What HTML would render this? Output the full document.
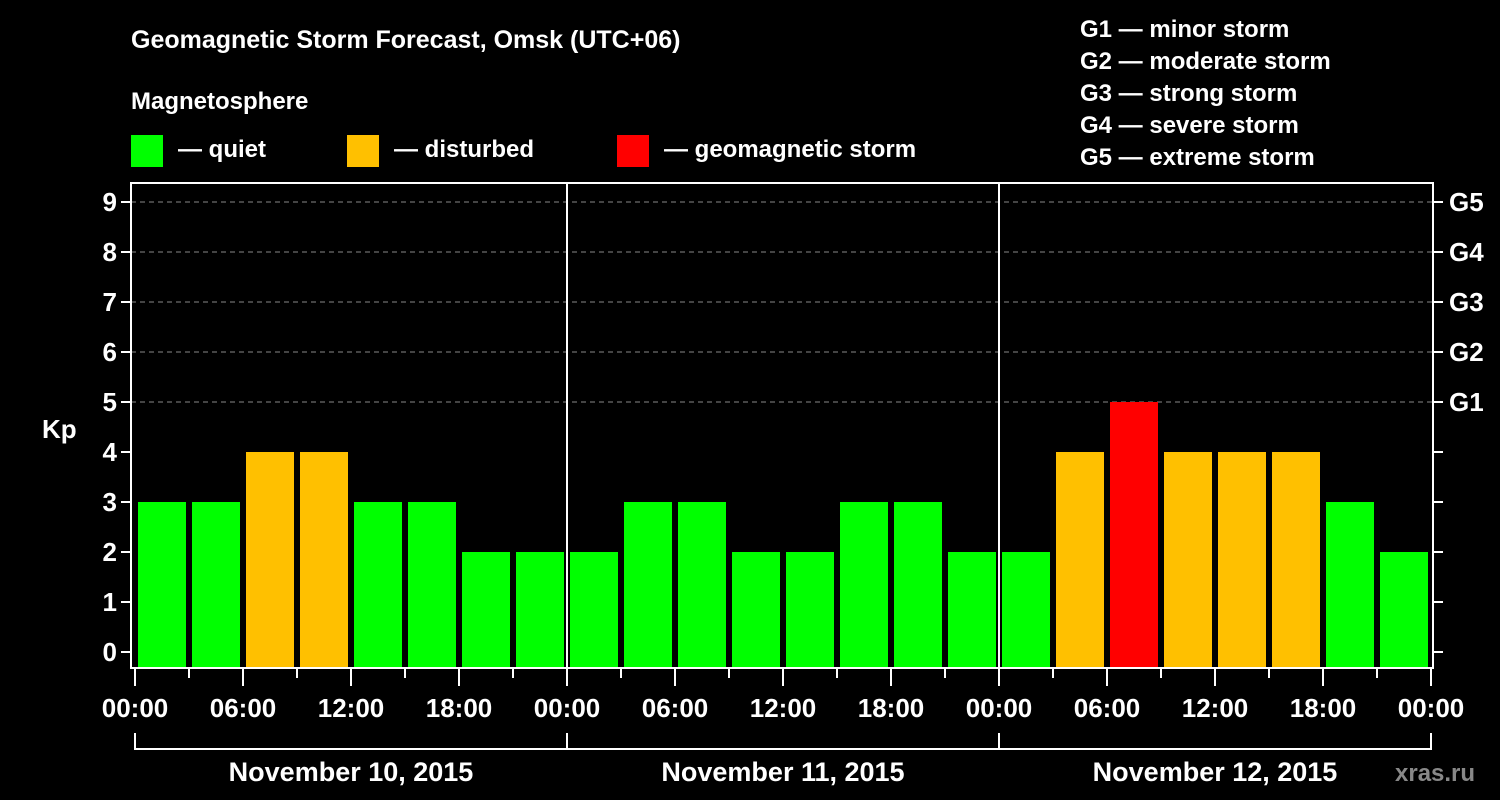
<!DOCTYPE html>
<html><head><meta charset="utf-8"><style>
html,body{margin:0;padding:0;background:#000;}
svg{display:block;font-family:"Liberation Sans",Arial,sans-serif;font-weight:bold;}
</style></head><body>
<svg id="chart" width="1500" height="800" viewBox="0 0 1500 800">
<rect width="1500" height="800" fill="#000"/>
<text x="131" y="48" fill="#fff" font-size="25">Geomagnetic Storm Forecast, Omsk (UTC+06)</text>
<text x="131" y="109" fill="#fff" font-size="24">Magnetosphere</text>
<g><rect x="131" y="135" width="32" height="32" fill="#00ff00"/><text x="178" y="157" fill="#fff" font-size="24">— quiet</text></g>
<g><rect x="347" y="135" width="32" height="32" fill="#ffc000"/><text x="394" y="157" fill="#fff" font-size="24">— disturbed</text></g>
<g><rect x="617" y="135" width="32" height="32" fill="#ff0000"/><text x="664" y="157" fill="#fff" font-size="24">— geomagnetic storm</text></g>
<g fill="#fff" font-size="24">
<text x="1080" y="37">G1 — minor storm</text>
<text x="1080" y="69">G2 — moderate storm</text>
<text x="1080" y="101">G3 — strong storm</text>
<text x="1080" y="133">G4 — severe storm</text>
<text x="1080" y="165">G5 — extreme storm</text>
</g>
<text x="42" y="438" fill="#fff" font-size="26">Kp</text>
<text x="1395" y="781" fill="#888" font-size="24">xras.ru</text>
<g id="grid"></g><g id="bars"></g><g id="axes"></g>
</svg>
<script>
const kpValues=[3,3,4,4,3,3,2,2, 2,3,3,2,2,3,3,2, 2,4,5,4,4,4,3,2];
const dayLabels=["November 10, 2015","November 11, 2015","November 12, 2015"];
const hourLabels=["00:00","06:00","12:00","18:00"];
const yTicks=[0,1,2,3,4,5,6,7,8,9];
const gLabels=["G1","G2","G3","G4","G5"];
const NS="http://www.w3.org/2000/svg";
const X0=135,DAYW=432,Y0=652,UNIT=50,TOP=183,BOT=668,LEFT=131,RIGHT=1433;
const xs=h=>X0+h/24*DAYW; const ys=v=>Y0-v*UNIT;
function mk(t,a,p){const e=document.createElementNS(NS,t);for(const k in a)e.setAttribute(k,a[k]);p.appendChild(e);return e;}
const grid=document.getElementById('grid'),bars=document.getElementById('bars'),axes=document.getElementById('axes');
yTicks.forEach(v=>{
 if(v>=5){const l=mk('line',{x1:LEFT,x2:RIGHT,y1:ys(v),y2:ys(v),stroke:'#888','stroke-width':1,'stroke-dasharray':'5,4'},grid);
 
 }
 const t=mk('line',{x1:LEFT-10,x2:LEFT,y1:ys(v),y2:ys(v),stroke:'#fff','stroke-width':2},axes);
 
 
 const tr=mk('line',{x1:RIGHT,x2:RIGHT+10,y1:ys(v),y2:ys(v),stroke:'#fff','stroke-width':2},axes);
 
 
 const tx=mk('text',{x:LEFT-14,y:ys(v)+9,fill:'#fff','font-size':26,'text-anchor':'end'},axes);tx.textContent=v;
 
 
});
gLabels.forEach((g,i)=>{
 const tx=mk('text',{x:1449,y:ys(5+i)+9,fill:'#fff','font-size':26},axes);tx.textContent=g;
 
 
});
kpValues.forEach((v,i)=>{
 const c=v>=5?'#ff0000':(v>=4?'#ffc000':'#00ff00');
 const r=mk('rect',{x:xs(i*3)+3,y:ys(v),width:48,height:BOT-ys(v),fill:c},bars);
 
 
});
const frame=mk('rect',{x:LEFT,y:TOP,width:RIGHT-LEFT,height:BOT-TOP,fill:'none',stroke:'#fff','stroke-width':2},axes);


for(let d=1;d<dayLabels.length;d++){
 const l=mk('line',{x1:xs(d*24),x2:xs(d*24),y1:TOP,y2:BOT,stroke:'#fff','stroke-width':2},axes);
 
 
}
for(let h=0;h<=72;h+=3){
 const major=h%6===0;
 const l=mk('line',{x1:xs(h),x2:xs(h),y1:BOT,y2:major?686:678,stroke:'#fff','stroke-width':2},axes);
 
 
 if(major){const tx=mk('text',{x:xs(h),y:717,fill:'#fff','font-size':26,'text-anchor':'middle'},axes);
 tx.textContent=hourLabels[(h%24)/6];
 
 }
}
const br=mk('polyline',{points:`${xs(0)},733 ${xs(0)},749 ${xs(72)},749 ${xs(72)},733`,fill:'none',stroke:'#fff','stroke-width':2},axes);


dayLabels.forEach((d,i)=>{
 if(i>0){const l=mk('line',{x1:xs(i*24),x2:xs(i*24),y1:733,y2:749,stroke:'#fff','stroke-width':2},axes);
 
 }
 const tx=mk('text',{x:xs(i*24+12),y:781,fill:'#fff','font-size':27,'text-anchor':'middle'},axes);tx.textContent=d;
 
 
});
</script>
</body></html>
